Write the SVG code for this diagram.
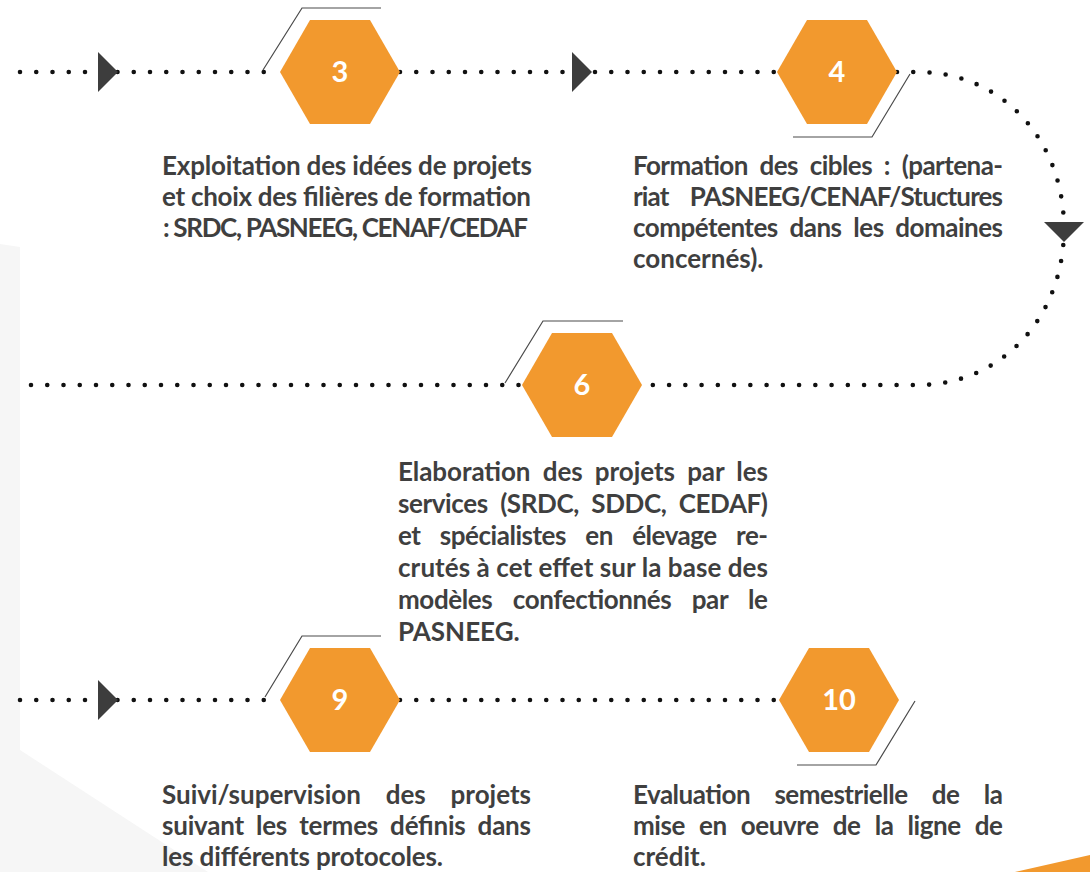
<svg xmlns="http://www.w3.org/2000/svg" width="1090" height="872" viewBox="0 0 1090 872">
<defs>
<style>
.hex{fill:#F2992E}
.num{font-family:Lato,"Open Sans","Liberation Sans",sans-serif;font-weight:700;font-size:29px;fill:#ffffff;text-anchor:middle}
.t{font-family:Lato,"Open Sans","Liberation Sans",sans-serif;font-weight:700;font-size:26px;fill:#3f3f3f}
.deco{fill:none;stroke:#4a4a4a;stroke-width:1.2}
.dots{fill:none;stroke:#111111;stroke-width:4.6;stroke-linecap:round;stroke-dasharray:0 16.25}
.arr{fill:#3d3d3d}
</style>
</defs>
<rect width="1090" height="872" fill="#ffffff"/>
<g id="background">
<polygon points="0,244 20,247 20,750 208,872 0,872" fill="#f6f6f6"/>
<polygon points="1015,872 1090,855 1090,872" fill="#F2992E"/>
</g>
<g id="connectors">
<path class="dots" d="M20 72 H280"/>
<path class="dots" d="M400 72 H777"/>
<path class="dots" d="M897 72 H918 C1002 72 1064 140 1064 228.5 C1064 317 1002 385 918 385 H642"/>
<path class="dots" d="M31 385 H522"/>
<path class="dots" d="M20 700 H280"/>
<path class="dots" d="M400 700 H779"/>
<polygon class="arr" points="98,52 118,72 98,92"/>
<polygon class="arr" points="572,52 592,72 572,92"/>
<polygon class="arr" points="1044,222 1084,222 1064,242"/>
<polygon class="arr" points="98,680 118,700 98,720"/>
</g>
<g id="node3">
<path class="deco" d="M263 70 L302 8 H381"/>
<polygon class="hex" points="280,72 310,20 370,20 400,72 370,124 310,124"/>
<text class="num" x="340" y="82">3</text>
<text class="t" x="162" y="175" textLength="370" lengthAdjust="spacing">Exploitation des idées de projets</text>
<text class="t" x="162" y="206" textLength="369" lengthAdjust="spacing">et choix des filières de formation</text>
<text class="t" x="163" y="237" textLength="365" lengthAdjust="spacing">: SRDC, PASNEEG, CENAF/CEDAF</text>
</g>
<g id="node4">
<path class="deco" d="M910 74 L872 137 H793"/>
<polygon class="hex" points="777,72 807,20 867,20 897,72 867,124 807,124"/>
<text class="num" x="837" y="82">4</text>
<text class="t" x="633" y="175" word-spacing="6" textLength="370" lengthAdjust="spacing">Formation des cibles : (partena-</text>
<text class="t" x="633" y="206" word-spacing="16" textLength="370" lengthAdjust="spacing">riat PASNEEG/CENAF/Stuctures</text>
<text class="t" x="633" y="237" word-spacing="6" textLength="370" lengthAdjust="spacing">compétentes dans les domaines</text>
<text class="t" x="633" y="268">concernés).</text>
</g>
<g id="node6">
<path class="deco" d="M505 383 L543 321 H623"/>
<polygon class="hex" points="522,385 552,333 612,333 642,385 612,437 552,437"/>
<text class="num" x="582" y="395">6</text>
<text class="t" x="398" y="481" word-spacing="6" textLength="370" lengthAdjust="spacing">Elaboration des projets par les</text>
<text class="t" x="398" y="513" word-spacing="6.5" textLength="370" lengthAdjust="spacing">services (SRDC, SDDC, CEDAF)</text>
<text class="t" x="398" y="545" word-spacing="13.5" textLength="370" lengthAdjust="spacing">et spécialistes en élevage re-</text>
<text class="t" x="398" y="577" textLength="370" lengthAdjust="spacing">crutés à cet effet sur la base des</text>
<text class="t" x="398" y="609" word-spacing="14.5" textLength="370" lengthAdjust="spacing">modèles confectionnés par le</text>
<text class="t" x="398" y="641">PASNEEG.</text>
</g>
<g id="node9">
<path class="deco" d="M265 697 L302 636 H381"/>
<polygon class="hex" points="280,700 310,648 370,648 400,700 370,752 310,752"/>
<text class="num" x="340" y="710">9</text>
<text class="t" x="162" y="804" word-spacing="18.5" textLength="369" lengthAdjust="spacing">Suivi/supervision des projets</text>
<text class="t" x="162" y="835" word-spacing="6" textLength="369" lengthAdjust="spacing">suivant les termes définis dans</text>
<text class="t" x="162" y="866" textLength="281" lengthAdjust="spacing">les différents protocoles.</text>
</g>
<g id="node10">
<path class="deco" d="M915 701 L876 765 H797"/>
<polygon class="hex" points="779,700 809,648 869,648 899,700 869,752 809,752"/>
<text class="num" x="839" y="710">10</text>
<text class="t" x="633" y="804" word-spacing="18.5" textLength="370" lengthAdjust="spacing">Evaluation semestrielle de la</text>
<text class="t" x="633" y="835" word-spacing="8.3" textLength="370" lengthAdjust="spacing">mise en oeuvre de la ligne de</text>
<text class="t" x="633" y="866">crédit.</text>
</g>
</svg>
